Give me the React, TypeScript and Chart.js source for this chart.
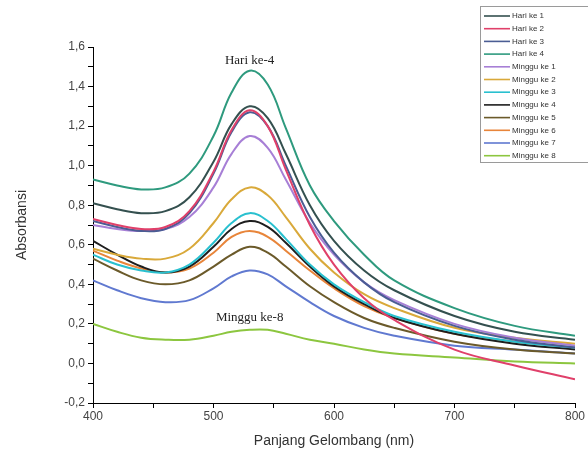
import React, { useEffect, useRef } from "react";
import { Chart, registerables } from "chart.js";

Chart.register(...registerables);

const wavelengths = [400, 420, 440, 460, 480, 500, 515, 530, 545, 560, 580, 600, 625, 650, 700, 750, 800];

const seriesLabels = [
  "Hari ke 1", "Hari ke 2", "Hari ke 3", "Hari ke 4",
  "Minggu ke 1", "Minggu ke 2", "Minggu ke 3", "Minggu ke 4",
  "Minggu ke 5", "Minggu ke 6", "Minggu ke 7", "Minggu ke 8",
];

const seriesColors = [
  "#34504f", "#e0406a", "#4b5d94", "#2e9a7e",
  "#a77fd6", "#d9a93a", "#29c0cf", "#1e1e1e",
  "#6b5a2a", "#e8853a", "#6079d0", "#8cc63f",
];

const hari1 = [0.81, 0.78, 0.76, 0.77, 0.84, 1.02, 1.21, 1.30, 1.24, 1.06, 0.80, 0.62, 0.47, 0.37, 0.24, 0.16, 0.12];
const hari2 = [0.73, 0.70, 0.68, 0.69, 0.77, 0.97, 1.18, 1.28, 1.20, 0.98, 0.70, 0.50, 0.33, 0.22, 0.07, -0.01, -0.08];
const hari3 = [0.72, 0.69, 0.67, 0.68, 0.76, 0.96, 1.17, 1.27, 1.20, 1.00, 0.74, 0.56, 0.41, 0.31, 0.19, 0.12, 0.08];
const hari4 = [0.93, 0.90, 0.88, 0.89, 0.96, 1.15, 1.37, 1.48, 1.41, 1.19, 0.90, 0.72, 0.55, 0.42, 0.28, 0.19, 0.14];
const minggu1 = [0.70, 0.68, 0.67, 0.68, 0.74, 0.89, 1.06, 1.15, 1.09, 0.93, 0.71, 0.55, 0.41, 0.32, 0.20, 0.13, 0.09];
const minggu2 = [0.58, 0.55, 0.53, 0.53, 0.58, 0.71, 0.83, 0.89, 0.85, 0.74, 0.58, 0.46, 0.35, 0.28, 0.18, 0.13, 0.10];
const minggu3 = [0.55, 0.50, 0.47, 0.46, 0.50, 0.61, 0.71, 0.76, 0.72, 0.63, 0.50, 0.40, 0.31, 0.24, 0.16, 0.11, 0.08];
const minggu4 = [0.62, 0.55, 0.49, 0.46, 0.49, 0.59, 0.68, 0.72, 0.69, 0.61, 0.49, 0.39, 0.30, 0.23, 0.15, 0.10, 0.07];
const minggu5 = [0.53, 0.47, 0.42, 0.40, 0.42, 0.49, 0.55, 0.59, 0.56, 0.49, 0.39, 0.31, 0.23, 0.18, 0.11, 0.07, 0.05];
const minggu6 = [0.57, 0.52, 0.48, 0.46, 0.48, 0.56, 0.64, 0.67, 0.64, 0.57, 0.47, 0.38, 0.29, 0.23, 0.15, 0.11, 0.08];
const minggu7 = [0.42, 0.37, 0.33, 0.31, 0.32, 0.38, 0.44, 0.47, 0.45, 0.39, 0.31, 0.24, 0.18, 0.14, 0.09, 0.07, 0.05];
const minggu8 = [0.20, 0.16, 0.13, 0.12, 0.12, 0.14, 0.16, 0.17, 0.17, 0.15, 0.12, 0.10, 0.07, 0.05, 0.03, 0.01, 0.00];

const seriesValues = [hari1, hari2, hari3, hari4, minggu1, minggu2, minggu3, minggu4, minggu5, minggu6, minggu7, minggu8];

const annotations = [
  { text: "Hari ke-4", x: 530, y: 1.53 },
  { text: "Minggu ke-8", x: 530, y: 0.23 },
];

const SANS = "Arial, 'Liberation Sans', sans-serif";
const SERIF = "'Times New Roman', 'Liberation Serif', serif";

const overlayPlugin = {
  id: "overlay",
  afterDraw(chart: any) {
    const ctx = chart.ctx;
    const xs = chart.scales.x;
    const ys = chart.scales.y;
    ctx.save();
    ctx.fillStyle = "#222";
    ctx.font = `13px ${SERIF}`;
    ctx.textAlign = "center";
    ctx.textBaseline = "middle";
    annotations.forEach((a) => {
      ctx.fillText(a.text, xs.getPixelForValue(a.x), ys.getPixelForValue(a.y));
    });
    const bx = 480, by = 6, bw = 110, bh = 156;
    ctx.strokeStyle = "#9a9a9a";
    ctx.lineWidth = 1;
    ctx.strokeRect(bx + 0.5, by + 0.5, bw, bh);
    ctx.font = `8px ${SANS}`;
    ctx.textAlign = "left";
    ctx.textBaseline = "middle";
    chart.data.datasets.forEach((ds: any, i: number) => {
      const yy = by + 10 + i * 12.7;
      ctx.strokeStyle = ds.borderColor;
      ctx.lineWidth = 1.6;
      ctx.beginPath();
      ctx.moveTo(484, yy);
      ctx.lineTo(510, yy);
      ctx.stroke();
      ctx.fillStyle = "#333";
      ctx.fillText(ds.label, 512, yy);
    });
    ctx.restore();
  },
};

export default function App() {
  const ref = useRef<HTMLCanvasElement | null>(null);
  useEffect(() => {
    if (!ref.current) return;
    const chart = new Chart(ref.current, {
      type: "line",
      data: {
        datasets: seriesValues.map((vals, i) => ({
          label: seriesLabels[i],
          data: wavelengths.map((w, j) => ({ x: w, y: vals[j] })),
          borderColor: seriesColors[i],
          backgroundColor: seriesColors[i],
          borderWidth: 2,
          pointRadius: 0,
          tension: 0.4,
          fill: false,
        })),
      },
      options: {
        animation: false,
        responsive: false,
        layout: { padding: { top: 47, right: 13, left: 10, bottom: 11 } },
        plugins: { legend: { display: false }, tooltip: { enabled: false } },
        scales: {
          x: {
            type: "linear",
            min: 400,
            max: 800,
            afterFit: (s: any) => { s.height = 51; },
            ticks: {
              stepSize: 50,
              autoSkip: false,
              maxRotation: 0,
              color: "#444",
              font: { size: 12, family: SANS },
              padding: 1,
              callback: (v: any) => (Math.round(v) % 100 === 0 ? String(Math.round(v)) : ""),
            },
            grid: { drawOnChartArea: false, drawTicks: true, tickLength: 5, color: "#000" },
            border: { color: "#000", width: 1 },
            title: {
              display: true,
              text: "Panjang Gelombang (nm)",
              color: "#333",
              font: { size: 14, family: SANS },
              padding: { top: 4 },
            },
          },
          y: {
            type: "linear",
            min: -0.2,
            max: 1.6,
            afterFit: (s: any) => { s.width = 83; },
            ticks: {
              stepSize: 0.1,
              autoSkip: false,
              color: "#444",
              font: { size: 12, family: SANS },
              padding: 3,
              callback: (v: any) => {
                const k = Math.round(Number(v) * 10);
                if (k % 2 !== 0) return "";
                return (k / 10).toFixed(1).replace(".", ",");
              },
            },
            grid: { drawOnChartArea: false, drawTicks: true, tickLength: 5, color: "#000" },
            border: { color: "#000", width: 1 },
            title: {
              display: true,
              text: "Absorbansi",
              color: "#333",
              font: { size: 14, family: SANS },
              padding: { bottom: 8 },
            },
          },
        },
      },
      plugins: [overlayPlugin],
    });
    return () => chart.destroy();
  }, []);
  return (
    <div style={{ position: "absolute", left: 0, top: 0, width: 588, height: 465, background: "#fff" }}>
      <canvas ref={ref} width={588} height={465} style={{ display: "block" }} />
    </div>
  );
}
